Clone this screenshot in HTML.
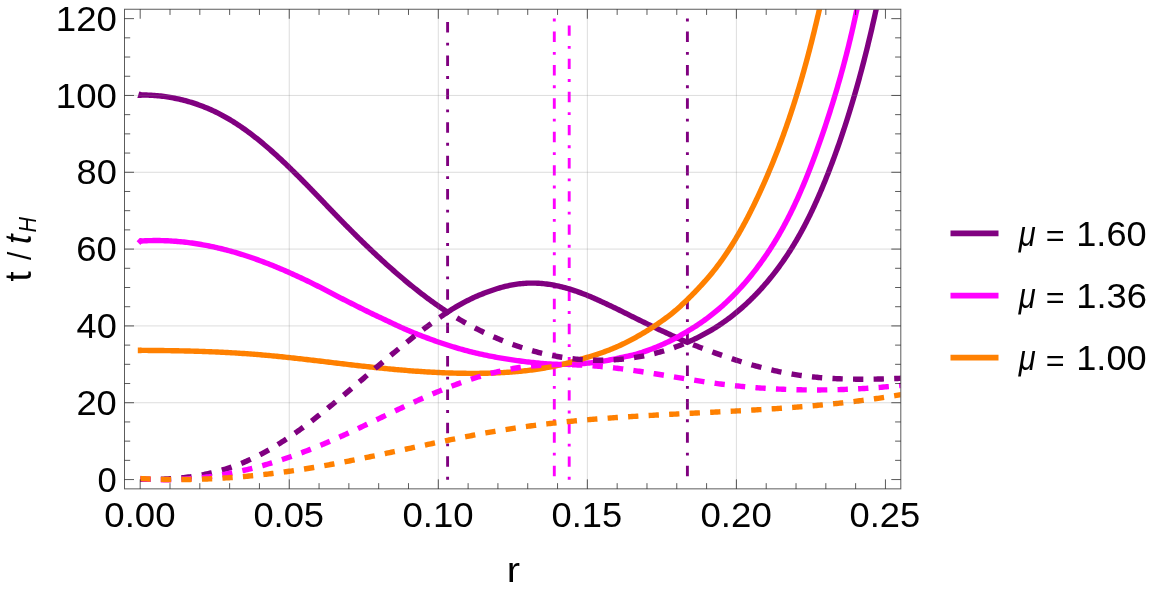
<!DOCTYPE html>
<html><head><meta charset="utf-8"><title>t/tH vs r</title>
<style>html,body{margin:0;padding:0;background:#fff}svg{display:block}</style></head>
<body>
<svg width="1163" height="596" viewBox="0 0 1163 596">
<rect width="1163" height="596" fill="#ffffff"/>
<defs><clipPath id="pc"><rect x="124.5" y="9.25" width="776.3" height="479.6"/></clipPath></defs>
<g clip-path="url(#pc)" fill="none" stroke-linejoin="miter" stroke-linecap="butt">
<path d="M447.6,479.7 V18.55" stroke="#800080" stroke-width="2.9" stroke-dasharray="2.85 10.15 10.45 9.95"/>
<path d="M687.4,18.55 V479.7" stroke="#800080" stroke-width="2.9" stroke-dasharray="2.85 10.15 10.45 9.95"/>
<path d="M554.3,18.55 V479.7" stroke="#ff00ff" stroke-width="2.9" stroke-dasharray="2.85 10.15 10.45 9.95"/>
<path d="M569.2,479.7 V18.55" stroke="#ff00ff" stroke-width="2.9" stroke-dasharray="2.83 10.07 10.37 9.88"/>
<path d="M140.30,95.01 L141.83,95.00 L143.41,95.01 L144.99,95.03 L146.57,95.06 L148.15,95.11 L149.73,95.18 L151.31,95.26 L152.88,95.35 L154.46,95.46 L156.03,95.59 L157.60,95.73 L159.17,95.88 L160.74,96.05 L162.30,96.24 L163.86,96.44 L165.42,96.65 L166.98,96.88 L168.54,97.12 L170.09,97.38 L171.64,97.65 L173.19,97.94 L174.73,98.24 L176.27,98.55 L177.81,98.88 L179.34,99.22 L180.87,99.58 L182.40,99.95 L183.92,100.33 L185.44,100.73 L186.95,101.14 L188.46,101.57 L189.97,102.01 L191.47,102.46 L192.97,102.93 L194.46,103.41 L195.95,103.91 L197.43,104.41 L198.91,104.93 L200.38,105.47 L201.84,106.02 L203.30,106.58 L204.76,107.15 L206.21,107.74 L207.65,108.34 L209.09,108.95 L210.52,109.58 L211.95,110.22 L213.37,110.87 L214.78,111.54 L216.18,112.21 L217.58,112.91 L218.98,113.61 L220.36,114.32 L221.74,115.05 L223.11,115.79 L224.48,116.54 L225.84,117.30 L227.19,118.08 L228.54,118.86 L229.88,119.66 L231.22,120.46 L232.55,121.28 L233.87,122.11 L235.19,122.94 L236.50,123.79 L237.81,124.64 L239.11,125.51 L240.40,126.38 L241.69,127.27 L242.98,128.16 L244.25,129.06 L245.53,129.97 L246.80,130.88 L248.06,131.81 L249.32,132.74 L250.57,133.68 L251.82,134.63 L253.06,135.58 L254.30,136.54 L255.53,137.51 L256.76,138.48 L257.98,139.46 L259.20,140.45 L260.42,141.44 L261.63,142.44 L262.83,143.44 L264.04,144.45 L265.23,145.47 L266.43,146.48 L267.62,147.51 L268.80,148.53 L269.98,149.57 L271.16,150.60 L272.33,151.64 L273.50,152.68 L274.67,153.73 L275.83,154.78 L276.99,155.83 L278.15,156.89 L279.30,157.95 L280.45,159.02 L281.59,160.08 L282.74,161.15 L283.88,162.23 L285.01,163.30 L286.15,164.38 L287.28,165.47 L288.40,166.55 L289.53,167.64 L290.65,168.73 L291.77,169.82 L292.89,170.92 L294.01,172.01 L295.12,173.11 L296.23,174.22 L297.34,175.32 L298.45,176.43 L299.56,177.53 L300.66,178.64 L301.76,179.76 L302.86,180.87 L303.96,181.98 L305.06,183.10 L306.16,184.22 L307.25,185.34 L308.35,186.46 L309.44,187.58 L310.53,188.70 L311.62,189.83 L312.71,190.95 L313.80,192.08 L314.89,193.21 L315.97,194.33 L317.06,195.46 L318.15,196.59 L319.23,197.72 L320.32,198.85 L321.40,199.98 L322.49,201.11 L323.57,202.24 L324.66,203.37 L325.74,204.50 L326.82,205.63 L327.91,206.76 L328.99,207.89 L330.08,209.02 L331.17,210.15 L332.25,211.28 L333.34,212.41 L334.43,213.54 L335.52,214.66 L336.61,215.79 L337.70,216.92 L338.79,218.04 L339.88,219.16 L340.98,220.29 L342.07,221.41 L343.17,222.53 L344.26,223.65 L345.36,224.77 L346.46,225.88 L347.57,227.00 L348.67,228.11 L349.77,229.22 L350.88,230.33 L351.99,231.44 L353.09,232.55 L354.20,233.66 L355.32,234.76 L356.43,235.86 L357.54,236.97 L358.66,238.07 L359.78,239.16 L360.90,240.26 L362.02,241.36 L363.14,242.45 L364.27,243.54 L365.39,244.63 L366.52,245.72 L367.65,246.80 L368.78,247.88 L369.92,248.97 L371.05,250.05 L372.19,251.12 L373.33,252.20 L374.47,253.27 L375.61,254.34 L376.76,255.41 L377.90,256.48 L379.05,257.54 L380.20,258.60 L381.36,259.66 L382.51,260.72 L383.67,261.77 L384.83,262.83 L385.99,263.88 L387.16,264.92 L388.32,265.97 L389.49,267.01 L390.66,268.05 L391.83,269.09 L393.01,270.12 L394.19,271.15 L395.37,272.18 L396.55,273.21 L397.73,274.23 L398.92,275.25 L400.11,276.27 L401.30,277.28 L402.50,278.29 L403.69,279.30 L404.89,280.31 L406.10,281.31 L407.30,282.31 L408.51,283.30 L409.72,284.30 L410.93,285.29 L412.15,286.27 L413.37,287.26 L414.59,288.24 L415.81,289.21 L417.04,290.18 L418.27,291.15 L419.50,292.12 L420.74,293.08 L421.98,294.03 L423.22,294.98 L424.46,295.93 L425.71,296.87 L426.97,297.81 L428.22,298.75 L429.48,299.67 L430.75,300.60 L432.01,301.52 L433.28,302.43 L434.56,303.34 L435.84,304.24 L437.12,305.14 L438.41,306.03 L439.70,306.91 L440.99,307.79 L442.29,308.67 L443.59,309.53 L444.90,310.39 L446.21,311.25 L447.53,312.10 L447.57,312.13 L448.95,311.24 L450.26,310.40 L451.57,309.58 L452.89,308.78 L454.21,307.98 L455.54,307.19 L456.87,306.41 L458.21,305.63 L459.55,304.87 L460.89,304.12 L462.24,303.37 L463.60,302.63 L464.96,301.91 L466.32,301.19 L467.69,300.49 L469.06,299.79 L470.44,299.11 L471.83,298.45 L473.22,297.80 L474.61,297.16 L476.01,296.54 L477.41,295.93 L478.82,295.34 L480.23,294.76 L481.65,294.19 L483.07,293.63 L484.49,293.08 L485.93,292.54 L487.36,292.01 L488.80,291.48 L490.25,290.96 L491.70,290.45 L493.15,289.95 L494.61,289.47 L496.07,288.99 L497.54,288.53 L499.01,288.09 L500.49,287.66 L501.97,287.25 L503.46,286.85 L504.95,286.47 L506.45,286.12 L507.95,285.78 L509.45,285.46 L510.96,285.16 L512.47,284.88 L513.99,284.62 L515.51,284.37 L517.04,284.14 L518.57,283.94 L520.11,283.75 L521.65,283.59 L523.19,283.45 L524.74,283.33 L526.29,283.23 L527.84,283.16 L529.40,283.11 L530.96,283.09 L532.51,283.09 L534.07,283.11 L535.63,283.15 L537.19,283.21 L538.75,283.29 L540.31,283.40 L541.87,283.52 L543.42,283.66 L544.98,283.83 L546.53,284.01 L548.08,284.21 L549.62,284.44 L551.16,284.68 L552.70,284.94 L554.24,285.23 L555.76,285.53 L557.29,285.84 L558.80,286.18 L560.31,286.52 L561.82,286.89 L563.32,287.27 L564.81,287.66 L566.29,288.07 L567.78,288.50 L569.25,288.93 L570.72,289.38 L572.18,289.85 L573.64,290.33 L575.09,290.82 L576.54,291.32 L577.99,291.83 L579.43,292.35 L580.86,292.89 L582.29,293.43 L583.72,293.98 L585.15,294.54 L586.57,295.10 L587.98,295.68 L589.40,296.26 L590.81,296.85 L592.22,297.45 L593.62,298.05 L595.03,298.67 L596.43,299.29 L597.83,299.91 L599.22,300.55 L600.62,301.19 L602.01,301.84 L603.40,302.48 L604.80,303.13 L606.19,303.78 L607.57,304.44 L608.96,305.09 L610.35,305.75 L611.74,306.42 L613.13,307.08 L614.52,307.75 L615.90,308.43 L617.29,309.10 L618.68,309.79 L620.07,310.47 L621.46,311.16 L622.86,311.86 L624.25,312.55 L625.64,313.25 L627.04,313.95 L628.44,314.66 L629.83,315.36 L631.23,316.06 L632.63,316.76 L634.03,317.46 L635.44,318.16 L636.84,318.85 L638.24,319.54 L639.65,320.23 L641.06,320.92 L642.46,321.60 L643.87,322.28 L645.28,322.96 L646.69,323.64 L648.10,324.32 L649.52,324.99 L650.93,325.67 L652.34,326.34 L653.76,327.01 L655.18,327.68 L656.60,328.35 L658.01,329.02 L659.43,329.68 L660.86,330.34 L662.28,331.00 L663.70,331.66 L665.13,332.32 L666.55,332.98 L667.98,333.64 L669.40,334.29 L670.83,334.95 L672.26,335.60 L673.69,336.25 L675.12,336.90 L676.55,337.55 L677.99,338.20 L679.42,338.85 L680.86,339.50 L682.29,340.15 L683.73,340.81 L685.17,341.46 L686.61,342.12 L687.22,342.39 L688.64,341.78 L690.07,341.14 L691.49,340.50 L692.91,339.85 L694.33,339.18 L695.74,338.51 L697.15,337.82 L698.55,337.12 L699.94,336.42 L701.33,335.70 L702.71,334.97 L704.09,334.23 L705.46,333.49 L706.83,332.73 L708.19,331.96 L709.54,331.18 L710.89,330.39 L712.23,329.59 L713.56,328.78 L714.89,327.95 L716.22,327.12 L717.53,326.28 L718.84,325.43 L720.14,324.56 L721.43,323.69 L722.72,322.81 L724.00,321.91 L725.28,321.01 L726.54,320.10 L727.80,319.17 L729.06,318.24 L730.30,317.30 L731.54,316.34 L732.78,315.38 L734.00,314.41 L735.22,313.43 L736.43,312.44 L737.64,311.44 L738.84,310.43 L740.03,309.42 L741.21,308.39 L742.39,307.36 L743.56,306.32 L744.72,305.27 L745.88,304.21 L747.03,303.14 L748.17,302.07 L749.31,300.98 L750.44,299.89 L751.56,298.79 L752.67,297.69 L753.78,296.57 L754.88,295.45 L755.98,294.33 L757.07,293.19 L758.15,292.05 L759.22,290.90 L760.29,289.74 L761.35,288.57 L762.40,287.40 L763.44,286.23 L764.48,285.04 L765.51,283.85 L766.54,282.66 L767.56,281.45 L768.57,280.24 L769.57,279.03 L770.57,277.81 L771.56,276.58 L772.54,275.35 L773.52,274.11 L774.49,272.87 L775.45,271.62 L776.40,270.36 L777.35,269.10 L778.29,267.84 L779.23,266.57 L780.15,265.29 L781.07,264.02 L781.99,262.73 L782.89,261.44 L783.79,260.15 L784.68,258.85 L785.57,257.55 L786.45,256.24 L787.32,254.93 L788.18,253.62 L789.04,252.30 L789.89,250.98 L790.73,249.65 L791.57,248.32 L792.39,246.99 L793.22,245.66 L794.03,244.32 L794.84,242.97 L795.64,241.63 L796.44,240.28 L797.23,238.92 L798.01,237.57 L798.79,236.21 L799.56,234.85 L800.32,233.48 L801.08,232.11 L801.83,230.74 L802.57,229.37 L803.31,227.99 L804.05,226.61 L804.78,225.22 L805.50,223.84 L806.22,222.45 L806.93,221.06 L807.63,219.66 L808.33,218.27 L809.03,216.87 L809.72,215.47 L810.40,214.06 L811.08,212.66 L811.76,211.25 L812.43,209.84 L813.10,208.42 L813.76,207.01 L814.41,205.59 L815.06,204.17 L815.71,202.74 L816.35,201.32 L816.99,199.89 L817.63,198.46 L818.26,197.03 L818.88,195.60 L819.50,194.17 L820.12,192.73 L820.74,191.29 L821.35,189.85 L821.95,188.41 L822.55,186.97 L823.15,185.52 L823.75,184.08 L824.34,182.63 L824.93,181.18 L825.52,179.73 L826.10,178.27 L826.68,176.82 L827.25,175.37 L827.83,173.91 L828.40,172.45 L828.97,170.99 L829.53,169.53 L830.09,168.07 L830.65,166.61 L831.21,165.15 L831.76,163.68 L832.31,162.22 L832.86,160.75 L833.41,159.28 L833.95,157.81 L834.49,156.34 L835.03,154.87 L835.56,153.40 L836.10,151.93 L836.63,150.45 L837.15,148.98 L837.68,147.50 L838.20,146.02 L838.72,144.55 L839.24,143.07 L839.75,141.59 L840.26,140.10 L840.77,138.62 L841.28,137.14 L841.78,135.65 L842.28,134.17 L842.78,132.68 L843.28,131.20 L843.77,129.71 L844.26,128.22 L844.75,126.73 L845.24,125.24 L845.72,123.75 L846.20,122.26 L846.68,120.76 L847.16,119.27 L847.64,117.78 L848.11,116.28 L848.58,114.78 L849.05,113.29 L849.51,111.79 L849.97,110.29 L850.43,108.79 L850.89,107.29 L851.35,105.79 L851.80,104.29 L852.25,102.79 L852.70,101.28 L853.15,99.78 L853.59,98.27 L854.04,96.77 L854.48,95.26 L854.91,93.76 L855.35,92.25 L855.78,90.74 L856.22,89.23 L856.64,87.73 L857.07,86.22 L857.50,84.71 L857.92,83.20 L858.34,81.68 L858.76,80.17 L859.18,78.66 L859.59,77.15 L860.00,75.63 L860.41,74.12 L860.82,72.60 L861.23,71.09 L861.63,69.57 L862.04,68.06 L862.44,66.54 L862.84,65.02 L863.23,63.51 L863.63,61.99 L864.02,60.47 L864.41,58.95 L864.80,57.43 L865.19,55.91 L865.57,54.39 L865.95,52.87 L866.34,51.35 L866.72,49.83 L867.09,48.31 L867.47,46.79 L867.84,45.27 L868.21,43.74 L868.59,42.22 L868.95,40.70 L869.32,39.18 L869.69,37.65 L870.05,36.13 L870.41,34.60 L870.77,33.08 L871.13,31.56 L871.48,30.03 L871.84,28.51 L872.19,26.98 L872.54,25.45 L872.89,23.93 L873.24,22.40 L873.59,20.88 L873.93,19.35 L874.28,17.82 L874.62,16.30 L874.96,14.77 L875.30,13.25 L875.63,11.72 L875.97,10.19 L876.30,8.66 L876.63,7.14 L876.96,5.61 L877.29,4.08 L877.62,2.56 L877.95,1.03 L878.00,0.78" stroke="#800080" stroke-width="5.4"/>
<path d="M140.30,241.07 L141.82,240.98 L143.46,240.89 L145.10,240.80 L146.74,240.73 L148.38,240.67 L150.01,240.63 L151.65,240.59 L153.28,240.56 L154.91,240.55 L156.53,240.55 L158.16,240.55 L159.78,240.57 L161.40,240.60 L163.02,240.63 L164.63,240.68 L166.25,240.74 L167.86,240.81 L169.47,240.89 L171.08,240.98 L172.68,241.08 L174.29,241.19 L175.89,241.31 L177.49,241.44 L179.08,241.58 L180.68,241.73 L182.27,241.88 L183.86,242.05 L185.45,242.23 L187.04,242.42 L188.62,242.61 L190.21,242.82 L191.79,243.03 L193.37,243.26 L194.94,243.49 L196.52,243.73 L198.09,243.98 L199.66,244.24 L201.23,244.51 L202.80,244.79 L204.36,245.07 L205.93,245.36 L207.49,245.67 L209.05,245.98 L210.61,246.30 L212.16,246.62 L213.71,246.96 L215.27,247.30 L216.82,247.65 L218.36,248.01 L219.91,248.38 L221.45,248.75 L223.00,249.14 L224.54,249.53 L226.07,249.92 L227.61,250.33 L229.15,250.74 L230.68,251.16 L232.21,251.59 L233.74,252.02 L235.27,252.46 L236.79,252.91 L238.31,253.37 L239.84,253.83 L241.36,254.30 L242.87,254.77 L244.39,255.26 L245.91,255.74 L247.42,256.24 L248.93,256.74 L250.44,257.25 L251.95,257.76 L253.45,258.29 L254.96,258.81 L256.46,259.35 L257.96,259.88 L259.46,260.43 L260.95,260.98 L262.45,261.54 L263.94,262.10 L265.43,262.67 L266.92,263.24 L268.41,263.82 L269.90,264.40 L271.38,264.99 L272.87,265.59 L274.35,266.19 L275.83,266.79 L277.31,267.40 L278.79,268.02 L280.26,268.64 L281.73,269.26 L283.21,269.89 L284.68,270.52 L286.14,271.16 L287.61,271.81 L289.08,272.45 L290.54,273.11 L292.00,273.76 L293.46,274.42 L294.92,275.09 L296.38,275.76 L297.83,276.43 L299.29,277.10 L300.74,277.79 L302.19,278.47 L303.64,279.16 L305.09,279.85 L306.54,280.54 L307.98,281.24 L309.42,281.94 L310.87,282.65 L312.31,283.36 L313.75,284.07 L315.18,284.79 L316.62,285.50 L318.05,286.22 L319.49,286.95 L320.92,287.67 L322.35,288.40 L323.78,289.14 L325.20,289.87 L326.63,290.61 L328.05,291.35 L329.47,292.09 L330.90,292.83 L332.32,293.58 L333.73,294.33 L335.15,295.08 L336.57,295.83 L337.98,296.59 L339.39,297.34 L340.80,298.07 L342.21,298.77 L343.62,299.48 L345.03,300.18 L346.44,300.89 L347.84,301.60 L349.25,302.31 L350.65,303.02 L352.06,303.73 L353.46,304.44 L354.86,305.15 L356.26,305.85 L357.67,306.56 L359.07,307.27 L360.47,307.98 L361.88,308.68 L363.28,309.39 L364.68,310.09 L366.09,310.79 L367.49,311.48 L368.90,312.17 L370.30,312.85 L371.71,313.52 L373.12,314.19 L374.53,314.86 L375.94,315.52 L377.35,316.19 L378.77,316.85 L380.18,317.51 L381.60,318.18 L383.02,318.85 L384.44,319.52 L385.86,320.19 L387.29,320.87 L388.72,321.55 L390.15,322.24 L391.58,322.94 L393.02,323.62 L394.45,324.30 L395.90,324.98 L397.34,325.65 L398.79,326.32 L400.24,326.98 L401.69,327.63 L403.15,328.28 L404.61,328.92 L406.07,329.56 L407.54,330.19 L409.01,330.81 L410.48,331.43 L411.96,332.05 L413.44,332.65 L414.92,333.25 L416.41,333.85 L417.90,334.44 L419.39,335.02 L420.88,335.60 L422.38,336.17 L423.88,336.74 L425.38,337.30 L426.88,337.86 L428.39,338.41 L429.90,338.95 L431.41,339.50 L432.92,340.05 L434.44,340.60 L435.96,341.16 L437.48,341.70 L439.00,342.24 L440.53,342.76 L442.06,343.28 L443.58,343.79 L445.12,344.29 L446.65,344.79 L448.18,345.28 L449.72,345.77 L451.26,346.25 L452.80,346.72 L454.34,347.19 L455.89,347.65 L457.43,348.11 L458.98,348.56 L460.53,349.00 L462.08,349.44 L463.63,349.87 L465.19,350.29 L466.74,350.71 L468.30,351.12 L469.86,351.52 L471.41,351.92 L472.97,352.30 L474.54,352.69 L476.10,353.06 L477.66,353.42 L479.23,353.78 L480.80,354.13 L482.36,354.48 L483.93,354.81 L485.50,355.15 L487.07,355.47 L488.65,355.79 L490.22,356.11 L491.79,356.41 L493.37,356.72 L494.95,357.01 L496.52,357.30 L498.10,357.59 L499.68,357.87 L501.26,358.14 L502.84,358.41 L504.43,358.67 L506.01,358.93 L507.59,359.18 L509.18,359.43 L510.77,359.67 L512.35,359.91 L513.94,360.14 L515.53,360.37 L517.12,360.59 L518.71,360.80 L520.30,361.02 L521.89,361.22 L523.48,361.42 L525.07,361.62 L526.66,361.81 L528.26,362.00 L529.85,362.18 L531.45,362.35 L533.04,362.52 L534.64,362.69 L536.23,362.86 L537.83,363.02 L539.43,363.18 L541.02,363.33 L542.62,363.47 L544.22,363.60 L545.82,363.73 L547.41,363.85 L549.01,363.95 L550.61,364.05 L552.21,364.14 L553.81,364.21 L555.41,364.27 L557.01,364.32 L558.61,364.36 L560.21,364.37 L561.81,364.38 L563.41,364.38 L565.01,364.37 L566.61,364.35 L568.21,364.31 L569.81,364.27 L571.41,364.22 L573.01,364.16 L574.60,364.09 L576.20,364.01 L577.80,363.92 L579.39,363.82 L580.99,363.70 L582.59,363.58 L584.18,363.45 L585.77,363.31 L587.36,363.16 L588.95,363.00 L590.54,362.83 L592.13,362.65 L593.72,362.47 L595.31,362.27 L596.89,362.06 L598.47,361.84 L600.05,361.61 L601.63,361.37 L603.21,361.12 L604.79,360.86 L606.36,360.59 L607.94,360.31 L609.51,360.02 L611.07,359.72 L612.64,359.42 L614.21,359.10 L615.77,358.77 L617.33,358.43 L618.88,358.08 L620.44,357.72 L621.99,357.37 L623.54,357.04 L625.09,356.71 L626.63,356.39 L628.17,356.07 L629.71,355.74 L631.25,355.40 L632.78,355.05 L634.31,354.68 L635.84,354.29 L637.36,353.87 L638.88,353.42 L640.40,352.94 L641.91,352.44 L643.42,351.93 L644.93,351.41 L646.43,350.88 L647.93,350.34 L649.43,349.79 L650.92,349.23 L652.40,348.66 L653.89,348.08 L655.37,347.49 L656.84,346.89 L658.32,346.27 L659.78,345.65 L661.25,345.02 L662.70,344.38 L664.16,343.73 L665.61,343.06 L667.05,342.39 L668.49,341.71 L669.93,341.02 L671.36,340.31 L672.79,339.59 L674.21,338.85 L675.62,338.09 L677.03,337.32 L678.44,336.54 L679.84,335.76 L681.24,334.96 L682.63,334.15 L684.01,333.34 L685.39,332.52 L686.77,331.70 L688.14,330.88 L689.50,330.06 L690.86,329.23 L692.21,328.40 L693.55,327.56 L694.89,326.72 L696.23,325.86 L697.56,324.99 L698.88,324.11 L700.20,323.21 L701.51,322.30 L702.82,321.38 L704.12,320.45 L705.41,319.51 L706.70,318.57 L707.98,317.61 L709.25,316.64 L710.52,315.67 L711.78,314.68 L713.04,313.69 L714.29,312.69 L715.53,311.68 L716.77,310.65 L718.00,309.62 L719.23,308.59 L720.45,307.54 L721.66,306.48 L722.86,305.41 L724.06,304.33 L725.25,303.24 L726.44,302.14 L727.61,301.03 L728.78,299.91 L729.95,298.78 L731.11,297.64 L732.26,296.50 L733.40,295.35 L734.53,294.19 L735.66,293.02 L736.79,291.85 L737.90,290.67 L739.01,289.48 L740.11,288.29 L741.20,287.09 L742.29,285.88 L743.37,284.67 L744.44,283.45 L745.50,282.22 L746.56,280.98 L747.60,279.74 L748.65,278.49 L749.68,277.24 L750.70,275.97 L751.72,274.70 L752.73,273.43 L753.73,272.15 L754.73,270.86 L755.72,269.57 L756.69,268.27 L757.67,266.97 L758.63,265.66 L759.58,264.35 L760.53,263.05 L761.47,261.76 L762.41,260.47 L763.33,259.17 L764.25,257.87 L765.16,256.56 L766.06,255.25 L766.96,253.93 L767.85,252.61 L768.73,251.28 L769.61,249.95 L770.48,248.62 L771.34,247.28 L772.19,245.93 L773.04,244.59 L773.88,243.23 L774.72,241.88 L775.55,240.52 L776.37,239.15 L777.18,237.78 L777.99,236.41 L778.79,235.04 L779.59,233.66 L780.38,232.27 L781.17,230.89 L781.94,229.50 L782.72,228.10 L783.48,226.70 L784.24,225.30 L785.00,223.90 L785.75,222.49 L786.49,221.08 L787.23,219.66 L787.96,218.24 L788.69,216.82 L789.41,215.40 L790.13,213.97 L790.84,212.54 L791.54,211.11 L792.24,209.67 L792.94,208.23 L793.63,206.79 L794.32,205.34 L795.00,203.90 L795.67,202.45 L796.34,200.99 L797.01,199.54 L797.67,198.08 L798.33,196.62 L798.98,195.16 L799.63,193.69 L800.27,192.23 L800.91,190.76 L801.55,189.29 L802.18,187.81 L802.80,186.34 L803.43,184.86 L804.05,183.38 L804.66,181.90 L805.27,180.42 L805.88,178.94 L806.48,177.45 L807.08,175.96 L807.68,174.47 L808.27,172.98 L808.86,171.49 L809.44,169.99 L810.03,168.50 L810.60,167.00 L811.18,165.50 L811.75,164.01 L812.32,162.51 L812.89,161.00 L813.45,159.50 L814.01,158.00 L814.57,156.49 L815.12,154.99 L815.67,153.48 L816.22,151.98 L816.77,150.47 L817.31,148.96 L817.85,147.45 L818.39,145.94 L818.93,144.43 L819.46,142.92 L820.00,141.41 L820.53,139.90 L821.05,138.39 L821.58,136.87 L822.10,135.36 L822.62,133.85 L823.14,132.33 L823.65,130.82 L824.17,129.31 L824.68,127.79 L825.19,126.27 L825.69,124.76 L826.19,123.24 L826.70,121.72 L827.20,120.20 L827.69,118.69 L828.19,117.17 L828.68,115.65 L829.17,114.13 L829.66,112.60 L830.14,111.08 L830.62,109.56 L831.10,108.04 L831.58,106.51 L832.06,104.99 L832.53,103.46 L833.00,101.94 L833.47,100.41 L833.94,98.89 L834.40,97.36 L834.86,95.83 L835.32,94.30 L835.78,92.77 L836.23,91.24 L836.68,89.71 L837.13,88.18 L837.58,86.65 L838.02,85.12 L838.47,83.58 L838.91,82.05 L839.35,80.52 L839.78,78.98 L840.21,77.44 L840.65,75.91 L841.07,74.37 L841.50,72.83 L841.92,71.29 L842.35,69.75 L842.76,68.21 L843.18,66.67 L843.60,65.13 L844.01,63.59 L844.42,62.05 L844.83,60.50 L845.23,58.96 L845.63,57.41 L846.03,55.86 L846.43,54.32 L846.83,52.77 L847.22,51.22 L847.61,49.67 L848.00,48.12 L848.39,46.57 L848.77,45.02 L849.15,43.47 L849.53,41.91 L849.91,40.36 L850.28,38.80 L850.65,37.25 L851.02,35.69 L851.39,34.13 L851.76,32.57 L852.12,31.01 L852.48,29.45 L852.84,27.89 L853.19,26.33 L853.54,24.77 L853.90,23.20 L854.24,21.64 L854.59,20.07 L854.93,18.51 L855.28,16.94 L855.61,15.37 L855.95,13.80 L856.29,12.23 L856.62,10.66 L856.95,9.09 L857.27,7.52 L857.60,5.95 L857.92,4.37 L858.24,2.80 L858.56,1.22 L858.80,0.02" stroke="#ff00ff" stroke-width="5.4"/>
<path d="M140.30,350.40 L141.94,350.40 L143.59,350.41 L145.24,350.42 L146.88,350.42 L148.53,350.43 L150.18,350.44 L151.83,350.45 L153.48,350.47 L155.12,350.48 L156.77,350.50 L158.42,350.51 L160.07,350.53 L161.72,350.55 L163.37,350.57 L165.02,350.59 L166.66,350.61 L168.31,350.63 L169.96,350.66 L171.61,350.68 L173.26,350.71 L174.91,350.74 L176.56,350.77 L178.21,350.80 L179.86,350.83 L181.51,350.87 L183.16,350.90 L184.80,350.94 L186.45,350.98 L188.10,351.02 L189.75,351.06 L191.40,351.11 L193.05,351.15 L194.70,351.20 L196.35,351.25 L198.00,351.30 L199.65,351.36 L201.30,351.41 L202.94,351.47 L204.59,351.53 L206.24,351.59 L207.89,351.65 L209.54,351.71 L211.19,351.78 L212.84,351.85 L214.48,351.92 L216.13,351.99 L217.78,352.06 L219.43,352.14 L221.07,352.22 L222.72,352.30 L224.37,352.38 L226.02,352.47 L227.66,352.55 L229.31,352.64 L230.96,352.73 L232.60,352.83 L234.25,352.92 L235.89,353.02 L237.54,353.12 L239.19,353.23 L240.83,353.33 L242.48,353.44 L244.12,353.55 L245.77,353.66 L247.41,353.78 L249.05,353.90 L250.70,354.02 L252.34,354.14 L253.98,354.27 L255.63,354.40 L257.27,354.53 L258.91,354.66 L260.55,354.80 L262.20,354.94 L263.84,355.08 L265.48,355.22 L267.12,355.37 L268.76,355.52 L270.40,355.67 L272.04,355.83 L273.68,355.99 L275.32,356.14 L276.96,356.31 L278.60,356.47 L280.24,356.63 L281.88,356.80 L283.51,356.97 L285.15,357.14 L286.79,357.32 L288.43,357.49 L290.07,357.67 L291.70,357.85 L293.34,358.02 L294.98,358.21 L296.61,358.39 L298.25,358.57 L299.89,358.76 L301.52,358.94 L303.16,359.13 L304.80,359.32 L306.43,359.51 L308.07,359.70 L309.70,359.89 L311.34,360.08 L312.98,360.27 L314.61,360.47 L316.25,360.66 L317.88,360.86 L319.52,361.05 L321.15,361.25 L322.79,361.44 L324.42,361.64 L326.06,361.83 L327.69,362.03 L329.33,362.23 L330.96,362.42 L332.60,362.62 L334.23,362.82 L335.87,363.01 L337.51,363.21 L339.14,363.41 L340.78,363.60 L342.41,363.80 L344.05,363.99 L345.68,364.18 L347.32,364.38 L348.95,364.57 L350.59,364.76 L352.23,364.95 L353.86,365.14 L355.50,365.33 L357.13,365.52 L358.77,365.70 L360.41,365.89 L362.04,366.07 L363.68,366.26 L365.32,366.44 L366.95,366.62 L368.59,366.80 L370.23,366.98 L371.87,367.15 L373.50,367.33 L375.14,367.50 L376.78,367.67 L378.42,367.84 L380.06,368.01 L381.70,368.18 L383.33,368.34 L384.97,368.50 L386.61,368.67 L388.25,368.82 L389.89,368.98 L391.53,369.14 L393.17,369.29 L394.81,369.44 L396.45,369.59 L398.09,369.73 L399.73,369.88 L401.37,370.02 L403.01,370.16 L404.65,370.30 L406.29,370.43 L407.93,370.57 L409.57,370.70 L411.22,370.82 L412.86,370.95 L414.50,371.07 L416.14,371.19 L417.78,371.31 L419.43,371.42 L421.07,371.53 L422.71,371.64 L424.35,371.75 L426.00,371.85 L427.64,371.95 L429.28,372.05 L430.93,372.14 L432.57,372.23 L434.22,372.32 L435.86,372.40 L437.50,372.48 L439.15,372.56 L440.79,372.63 L442.44,372.71 L444.09,372.77 L445.73,372.84 L447.38,372.90 L449.02,372.96 L450.67,373.01 L452.31,373.06 L453.96,373.11 L455.61,373.15 L457.26,373.19 L458.90,373.22 L460.55,373.25 L462.20,373.28 L463.85,373.30 L465.49,373.32 L467.14,373.34 L468.79,373.35 L470.44,373.36 L472.09,373.36 L473.74,373.36 L475.39,373.36 L477.04,373.35 L478.69,373.33 L480.19,373.32 L481.69,373.30 L483.19,373.27 L484.69,373.24 L486.19,373.21 L487.69,373.18 L489.19,373.14 L490.69,373.09 L492.19,373.05 L493.69,372.99 L495.19,372.94 L496.69,372.88 L498.19,372.81 L499.69,372.74 L501.19,372.67 L502.69,372.59 L504.19,372.50 L505.69,372.41 L507.19,372.32 L508.69,372.22 L510.19,372.11 L511.68,372.00 L513.18,371.89 L514.68,371.77 L516.17,371.64 L517.67,371.51 L519.16,371.37 L520.66,371.22 L522.15,371.07 L523.64,370.92 L525.13,370.76 L526.77,370.57 L528.41,370.38 L530.05,370.18 L531.68,369.97 L533.32,369.75 L534.95,369.52 L536.58,369.29 L538.21,369.05 L539.84,368.80 L541.47,368.54 L543.10,368.27 L544.72,368.00 L546.35,367.71 L547.97,367.42 L549.59,367.12 L551.21,366.80 L552.83,366.48 L554.44,366.15 L556.05,365.81 L557.67,365.46 L559.27,365.11 L560.88,364.74 L562.49,364.36 L564.09,363.98 L565.69,363.59 L567.29,363.18 L568.88,362.77 L570.48,362.35 L572.07,361.92 L573.66,361.48 L575.24,361.04 L576.83,360.58 L578.41,360.11 L579.99,359.64 L581.56,359.16 L583.13,358.66 L584.70,358.16 L586.27,357.65 L587.83,357.18 L589.40,356.73 L590.95,356.27 L592.51,355.81 L594.06,355.33 L595.61,354.83 L597.15,354.33 L598.69,353.81 L600.23,353.28 L601.76,352.74 L603.29,352.20 L604.82,351.64 L606.34,351.08 L607.86,350.50 L609.38,349.92 L610.89,349.32 L612.40,348.71 L613.90,348.08 L615.40,347.45 L616.90,346.79 L618.39,346.13 L619.88,345.44 L621.36,344.74 L622.84,344.04 L624.32,343.32 L625.79,342.60 L627.25,341.86 L628.71,341.12 L630.17,340.37 L631.62,339.61 L633.07,338.84 L634.51,338.06 L635.95,337.27 L637.39,336.48 L638.81,335.67 L640.24,334.86 L641.66,334.03 L643.07,333.20 L644.48,332.36 L645.88,331.51 L647.28,330.65 L648.67,329.79 L650.06,328.91 L651.44,328.03 L652.81,327.14 L654.18,326.24 L655.55,325.33 L656.91,324.41 L658.26,323.49 L659.61,322.56 L660.95,321.62 L662.29,320.67 L663.62,319.71 L664.94,318.75 L666.26,317.78 L667.58,316.80 L668.88,315.81 L670.18,314.82 L671.48,313.80 L672.65,312.86 L673.81,311.91 L674.97,310.93 L676.13,309.95 L677.28,308.95 L678.42,307.94 L679.56,306.92 L680.69,305.89 L681.82,304.85 L682.94,303.81 L684.06,302.75 L685.17,301.70 L686.27,300.64 L687.37,299.57 L688.47,298.51 L689.55,297.44 L690.63,296.37 L691.71,295.30 L692.78,294.22 L693.84,293.13 L694.90,292.04 L695.95,290.95 L697.00,289.84 L698.04,288.74 L699.07,287.62 L700.10,286.51 L701.22,285.31 L702.33,284.11 L703.44,282.90 L704.54,281.68 L705.63,280.45 L706.71,279.22 L707.79,277.98 L708.86,276.73 L709.92,275.48 L710.97,274.22 L712.01,272.95 L713.04,271.67 L714.07,270.38 L715.09,269.09 L716.10,267.79 L717.10,266.48 L718.09,265.17 L719.08,263.85 L720.06,262.52 L721.03,261.19 L721.90,259.97 L722.77,258.75 L723.63,257.52 L724.49,256.28 L725.34,255.04 L726.18,253.80 L727.02,252.55 L727.85,251.30 L728.68,250.04 L729.50,248.78 L730.31,247.51 L731.12,246.24 L731.93,244.97 L732.72,243.69 L733.52,242.40 L734.30,241.12 L735.08,239.82 L735.86,238.53 L736.63,237.23 L737.40,235.93 L738.16,234.62 L738.91,233.31 L739.67,232.00 L740.41,230.69 L741.15,229.37 L741.89,228.05 L742.62,226.72 L743.35,225.39 L744.07,224.06 L744.79,222.73 L745.50,221.40 L746.21,220.06 L746.91,218.72 L747.61,217.38 L748.31,216.03 L749.00,214.69 L749.69,213.34 L750.38,211.99 L751.06,210.64 L751.73,209.29 L752.40,207.93 L753.07,206.58 L753.74,205.22 L754.40,203.86 L755.06,202.50 L755.71,201.14 L756.36,199.78 L757.01,198.41 L757.65,197.05 L758.30,195.69 L758.93,194.32 L759.57,192.95 L760.20,191.59 L760.83,190.22 L761.45,188.85 L762.07,187.48 L762.69,186.11 L763.30,184.74 L763.92,183.36 L764.52,181.99 L765.13,180.61 L765.73,179.24 L766.33,177.86 L766.93,176.48 L767.52,175.11 L768.17,173.59 L768.81,172.07 L769.45,170.55 L770.09,169.03 L770.72,167.51 L771.35,165.99 L771.98,164.46 L772.60,162.94 L773.22,161.41 L773.84,159.89 L774.45,158.36 L775.06,156.83 L775.66,155.30 L776.26,153.77 L776.86,152.24 L777.46,150.70 L778.05,149.17 L778.64,147.63 L779.22,146.10 L779.80,144.56 L780.38,143.02 L780.95,141.48 L781.53,139.94 L782.09,138.40 L782.66,136.86 L783.22,135.31 L783.78,133.77 L784.33,132.22 L784.89,130.67 L785.43,129.12 L785.98,127.58 L786.52,126.03 L787.06,124.47 L787.60,122.92 L788.13,121.37 L788.66,119.81 L789.19,118.26 L789.72,116.70 L790.24,115.14 L790.76,113.59 L791.27,112.03 L791.79,110.47 L792.30,108.90 L792.80,107.34 L793.31,105.78 L793.81,104.21 L794.31,102.65 L794.80,101.08 L795.30,99.51 L795.79,97.95 L796.28,96.38 L796.76,94.81 L797.24,93.23 L797.72,91.66 L798.20,90.09 L798.68,88.51 L799.15,86.94 L799.62,85.36 L800.08,83.79 L800.55,82.21 L801.01,80.63 L801.47,79.05 L801.93,77.47 L802.38,75.89 L802.83,74.31 L803.28,72.72 L803.73,71.14 L804.18,69.55 L804.62,67.97 L805.06,66.38 L805.50,64.79 L805.93,63.21 L806.37,61.62 L806.80,60.03 L807.23,58.44 L807.65,56.84 L808.08,55.25 L808.50,53.66 L808.92,52.06 L809.34,50.47 L809.76,48.87 L810.17,47.28 L810.58,45.68 L810.99,44.08 L811.40,42.48 L811.77,41.03 L812.14,39.58 L812.50,38.12 L812.87,36.67 L813.23,35.21 L813.59,33.75 L813.95,32.29 L814.31,30.84 L814.66,29.38 L815.02,27.92 L815.37,26.46 L815.72,25.00 L816.07,23.54 L816.42,22.08 L816.77,20.61 L817.12,19.15 L817.46,17.69 L817.80,16.22 L818.15,14.76 L818.49,13.30 L818.83,11.83 L819.16,10.36 L819.50,8.90 L819.84,7.43 L820.17,5.96 L820.50,4.50 L820.83,3.03 L821.16,1.56 L821.49,0.09 L821.50,0.06" stroke="#ff8000" stroke-width="5.4"/>
<path d="M137.3,97.9 L139.3,91.6 L141.5,92.1 L141.5,97.9 Z" fill="#800080" stroke="none"/>
<path d="M136.6,241.3 L139.6,238.0 L141.5,238.0 L141.5,243.6 L140.4,245.1 Z" fill="#ff00ff" stroke="none"/>
<path d="M137.8,347.6 H141.5 V353.2 H137.8 Z" fill="#ff8000" stroke="none"/>
<path d="M140.30,479.27 L141.91,479.31 L143.43,479.34 L144.96,479.36 L146.49,479.38 L148.02,479.39 L149.56,479.40 L151.10,479.40 L152.64,479.39 L154.18,479.37 L155.72,479.35 L157.27,479.32 L158.82,479.28 L160.36,479.23 L161.91,479.18 L163.47,479.12 L165.02,479.05 L166.57,478.98 L168.13,478.89 L169.68,478.80 L171.24,478.70 L172.79,478.59 L174.35,478.47 L175.90,478.35 L177.46,478.21 L179.02,478.07 L180.57,477.92 L182.12,477.76 L183.68,477.59 L185.23,477.41 L186.78,477.22 L188.33,477.03 L189.88,476.82 L191.43,476.61 L192.98,476.38 L194.52,476.15 L196.07,475.90 L197.61,475.65 L199.15,475.38 L200.68,475.11 L202.22,474.82 L203.75,474.53 L205.28,474.22 L206.80,473.91 L208.33,473.58 L209.85,473.24 L211.36,472.90 L212.87,472.54 L214.38,472.17 L215.89,471.79 L217.39,471.40 L218.89,470.99 L220.38,470.58 L221.87,470.15 L223.36,469.71 L224.84,469.26 L226.31,468.80 L227.78,468.33 L229.25,467.85 L230.71,467.35 L232.16,466.84 L233.61,466.32 L235.06,465.79 L236.50,465.25 L237.94,464.70 L239.37,464.14 L240.80,463.56 L242.22,462.98 L243.64,462.39 L245.05,461.78 L246.46,461.17 L247.87,460.54 L249.27,459.91 L250.67,459.26 L252.06,458.61 L253.45,457.95 L254.84,457.28 L256.22,456.59 L257.59,455.90 L258.97,455.20 L260.33,454.50 L261.70,453.78 L263.06,453.05 L264.41,452.32 L265.77,451.58 L267.12,450.83 L268.46,450.07 L269.80,449.31 L271.14,448.53 L272.47,447.75 L273.81,446.96 L275.13,446.17 L276.46,445.37 L277.78,444.56 L279.09,443.74 L280.40,442.92 L281.71,442.09 L283.02,441.25 L284.32,440.41 L285.62,439.56 L286.92,438.70 L288.21,437.84 L289.50,436.97 L290.79,436.10 L292.07,435.22 L293.35,434.34 L294.63,433.45 L295.91,432.56 L297.18,431.66 L298.45,430.75 L299.71,429.84 L300.98,428.93 L302.24,428.01 L303.50,427.09 L304.75,426.16 L306.00,425.23 L307.25,424.30 L308.50,423.36 L309.75,422.42 L310.99,421.47 L312.23,420.52 L313.47,419.57 L314.70,418.62 L315.93,417.66 L317.16,416.70 L318.39,415.73 L319.62,414.76 L320.84,413.79 L322.06,412.82 L323.28,411.85 L324.50,410.87 L325.72,409.90 L326.93,408.92 L328.14,407.93 L329.35,406.95 L330.56,405.97 L331.76,404.98 L332.97,403.99 L334.17,403.01 L335.37,402.02 L336.57,401.03 L337.77,400.03 L338.96,399.04 L340.16,398.05 L341.35,397.05 L342.54,396.06 L343.73,395.06 L344.92,394.07 L346.11,393.07 L347.29,392.07 L348.48,391.07 L349.66,390.08 L350.85,389.08 L352.03,388.08 L353.21,387.08 L354.40,386.08 L355.58,385.07 L356.76,384.07 L357.94,383.07 L359.12,382.07 L360.29,381.07 L361.47,380.07 L362.65,379.07 L363.83,378.07 L365.01,377.06 L366.18,376.06 L367.36,375.06 L368.54,374.06 L369.71,373.06 L370.89,372.06 L372.07,371.06 L373.25,370.06 L374.42,369.06 L375.60,368.06 L376.78,367.07 L377.96,366.07 L379.14,365.07 L380.32,364.08 L381.50,363.08 L382.68,362.09 L383.86,361.10 L385.04,360.10 L386.23,359.11 L387.41,358.12 L388.60,357.13 L389.78,356.15 L390.97,355.16 L392.16,354.17 L393.35,353.19 L394.54,352.21 L395.73,351.22 L396.93,350.24 L398.12,349.26 L399.32,348.29 L400.52,347.31 L401.71,346.34 L402.92,345.37 L404.12,344.39 L405.32,343.43 L406.53,342.46 L407.74,341.49 L408.95,340.53 L410.16,339.57 L411.38,338.61 L412.59,337.65 L413.81,336.70 L415.03,335.74 L416.25,334.79 L417.48,333.84 L418.71,332.90 L419.94,331.95 L421.17,331.01 L422.41,330.07 L423.65,329.13 L424.89,328.20 L426.13,327.27 L427.38,326.34 L428.63,325.41 L429.88,324.49 L431.13,323.57 L432.39,322.65 L433.65,321.74 L434.92,320.83 L436.19,319.93 L437.46,319.03 L438.73,318.13 L440.01,317.24 L441.29,316.35 L442.58,315.47 L443.87,314.60 L445.16,313.73 L446.46,312.87 L447.57,312.13 L448.85,312.94 L450.17,313.78 L451.50,314.61 L452.83,315.43 L454.16,316.25 L455.50,317.06 L456.84,317.87 L458.19,318.67 L459.54,319.46 L460.89,320.25 L462.25,321.03 L463.61,321.81 L464.98,322.58 L466.35,323.34 L467.72,324.09 L469.10,324.84 L470.48,325.59 L471.86,326.32 L473.25,327.05 L474.64,327.78 L476.03,328.49 L477.43,329.21 L478.83,329.91 L480.24,330.61 L481.65,331.30 L483.06,331.98 L484.48,332.66 L485.89,333.33 L487.32,334.00 L488.74,334.65 L490.17,335.30 L491.60,335.95 L493.04,336.58 L494.48,337.21 L495.92,337.83 L497.36,338.45 L498.81,339.06 L500.26,339.66 L501.72,340.25 L503.17,340.83 L504.63,341.41 L506.10,341.98 L507.56,342.55 L509.03,343.10 L510.50,343.65 L511.97,344.19 L513.45,344.72 L514.93,345.24 L516.41,345.76 L517.89,346.27 L519.38,346.77 L520.87,347.26 L522.36,347.74 L523.86,348.22 L525.35,348.69 L526.85,349.15 L528.35,349.60 L529.85,350.04 L531.36,350.47 L532.87,350.90 L534.38,351.31 L535.89,351.72 L537.40,352.12 L538.92,352.51 L540.43,352.89 L541.95,353.27 L543.47,353.63 L545.00,353.98 L546.52,354.33 L548.05,354.67 L549.58,354.99 L551.11,355.31 L552.64,355.62 L554.17,355.92 L555.71,356.21 L557.25,356.49 L558.78,356.76 L560.32,357.02 L561.87,357.28 L563.41,357.52 L564.95,357.75 L566.50,357.98 L568.04,358.19 L569.59,358.39 L571.14,358.59 L572.69,358.77 L574.24,358.94 L575.79,359.11 L577.35,359.26 L578.90,359.40 L580.46,359.53 L582.01,359.66 L583.57,359.77 L585.13,359.87 L586.69,359.96 L588.25,360.04 L589.81,360.11 L591.37,360.17 L592.93,360.22 L594.50,360.26 L596.06,360.28 L597.62,360.30 L599.19,360.31 L600.75,360.30 L602.32,360.28 L603.88,360.26 L605.45,360.22 L607.01,360.17 L608.58,360.11 L610.14,360.04 L611.71,359.96 L613.27,359.86 L614.84,359.76 L616.40,359.65 L617.96,359.52 L619.53,359.39 L621.09,359.24 L622.65,359.08 L624.21,358.91 L625.77,358.74 L627.32,358.55 L628.88,358.35 L630.44,358.13 L631.99,357.91 L633.54,357.68 L635.09,357.44 L636.64,357.18 L638.19,356.92 L639.73,356.64 L641.28,356.35 L642.82,356.06 L644.36,355.75 L645.90,355.43 L647.43,355.10 L648.96,354.76 L650.49,354.41 L652.02,354.05 L653.55,353.68 L655.07,353.30 L656.59,352.90 L658.10,352.50 L659.62,352.08 L661.13,351.66 L662.63,351.22 L664.14,350.78 L665.64,350.32 L667.13,349.85 L668.63,349.37 L670.12,348.88 L671.60,348.39 L673.09,347.88 L674.56,347.35 L676.04,346.82 L677.51,346.28 L678.97,345.73 L680.44,345.17 L681.89,344.59 L683.35,344.01 L684.80,343.41 L686.24,342.81 L687.22,342.39 L688.70,342.99 L690.15,343.56 L691.59,344.12 L693.03,344.68 L694.48,345.24 L695.92,345.80 L697.37,346.35 L698.82,346.91 L700.27,347.46 L701.71,348.01 L703.17,348.56 L704.62,349.10 L706.07,349.64 L707.52,350.18 L708.98,350.72 L710.43,351.25 L711.89,351.78 L713.35,352.31 L714.81,352.84 L716.27,353.36 L717.73,353.88 L719.19,354.40 L720.65,354.91 L722.11,355.42 L723.58,355.93 L725.05,356.43 L726.51,356.93 L727.98,357.43 L729.45,357.92 L730.92,358.41 L732.39,358.90 L733.87,359.38 L735.34,359.85 L736.82,360.33 L738.29,360.79 L739.77,361.26 L741.25,361.72 L742.73,362.17 L744.21,362.62 L745.70,363.07 L747.18,363.51 L748.66,363.95 L750.15,364.38 L751.64,364.81 L753.13,365.23 L754.62,365.64 L756.11,366.05 L757.60,366.46 L759.10,366.86 L760.59,367.25 L762.09,367.64 L763.59,368.03 L765.09,368.40 L766.59,368.78 L768.09,369.14 L769.60,369.50 L771.10,369.86 L772.61,370.20 L774.12,370.55 L775.62,370.88 L777.14,371.21 L778.65,371.53 L780.16,371.85 L781.68,372.16 L783.19,372.46 L784.71,372.75 L786.23,373.04 L787.75,373.32 L789.27,373.60 L790.80,373.86 L792.32,374.12 L793.85,374.38 L795.38,374.62 L796.91,374.86 L798.44,375.09 L799.97,375.31 L801.51,375.53 L803.05,375.73 L804.58,375.94 L806.12,376.13 L807.66,376.32 L809.20,376.50 L810.74,376.67 L812.29,376.84 L813.83,377.00 L815.38,377.15 L816.92,377.30 L818.47,377.44 L820.02,377.58 L821.57,377.71 L823.12,377.83 L824.67,377.95 L826.22,378.06 L827.77,378.16 L829.33,378.26 L830.88,378.36 L832.43,378.45 L833.99,378.53 L835.54,378.61 L837.10,378.68 L838.65,378.75 L840.21,378.81 L841.77,378.87 L843.32,378.93 L844.88,378.97 L846.44,379.02 L848.00,379.06 L849.55,379.09 L851.11,379.12 L852.67,379.15 L854.23,379.17 L855.78,379.19 L857.34,379.20 L858.90,379.21 L860.45,379.22 L862.01,379.22 L863.57,379.22 L865.12,379.21 L866.68,379.21 L868.24,379.19 L869.79,379.18 L871.35,379.16 L872.90,379.14 L874.45,379.11 L876.01,379.09 L877.56,379.06 L879.11,379.02 L880.66,378.99 L882.21,378.95 L883.76,378.91 L885.31,378.86 L886.86,378.82 L888.40,378.77 L889.95,378.72 L891.49,378.67 L893.04,378.62 L894.58,378.56 L896.12,378.50 L897.66,378.44 L899.20,378.38 L900.73,378.32 L902.27,378.26 L903.80,378.19 L905.34,378.13 L906.87,378.06 L908.00,378.01" stroke="#800080" stroke-width="5.4" stroke-dasharray="10.3 10.285"/>
<path d="M140.30,478.70 L141.83,478.82 L143.45,478.95 L145.06,479.06 L146.66,479.16 L148.27,479.26 L149.88,479.34 L151.48,479.42 L153.09,479.49 L154.69,479.55 L156.30,479.60 L157.90,479.64 L159.50,479.68 L161.10,479.71 L162.70,479.72 L164.30,479.73 L165.89,479.73 L167.49,479.73 L169.08,479.71 L170.68,479.69 L172.27,479.66 L173.86,479.62 L175.45,479.57 L177.04,479.52 L178.63,479.45 L180.22,479.38 L181.80,479.30 L183.39,479.22 L184.97,479.12 L186.56,479.02 L188.14,478.91 L189.72,478.79 L191.30,478.67 L192.88,478.54 L194.45,478.40 L196.03,478.25 L197.60,478.10 L199.18,477.93 L200.75,477.77 L202.32,477.59 L203.89,477.40 L205.46,477.21 L207.03,477.02 L208.60,476.81 L210.16,476.60 L211.73,476.38 L213.29,476.15 L214.85,475.92 L216.41,475.68 L217.97,475.43 L219.53,475.18 L221.09,474.92 L222.64,474.65 L224.20,474.38 L225.75,474.10 L227.31,473.82 L228.86,473.52 L230.41,473.22 L231.95,472.92 L233.50,472.61 L235.05,472.29 L236.59,471.96 L238.13,471.63 L239.68,471.29 L241.22,470.95 L242.76,470.60 L244.29,470.25 L245.83,469.88 L247.37,469.52 L248.90,469.14 L250.43,468.76 L251.96,468.38 L253.49,467.99 L255.02,467.59 L256.55,467.19 L258.07,466.78 L259.60,466.37 L261.12,465.95 L262.64,465.53 L264.16,465.10 L265.68,464.66 L267.20,464.22 L268.71,463.77 L270.23,463.32 L271.74,462.86 L273.25,462.40 L274.76,461.94 L276.27,461.46 L277.78,460.99 L279.28,460.50 L280.79,460.02 L282.29,459.52 L283.79,459.03 L285.29,458.53 L286.79,458.02 L288.29,457.51 L289.78,456.99 L291.27,456.47 L292.77,455.94 L294.26,455.41 L295.75,454.88 L297.23,454.34 L298.72,453.80 L300.20,453.25 L301.69,452.70 L303.17,452.14 L304.65,451.58 L306.13,451.01 L307.60,450.44 L309.08,449.87 L310.55,449.29 L312.02,448.71 L313.49,448.13 L314.96,447.54 L316.43,446.94 L317.89,446.35 L319.36,445.74 L320.82,445.14 L322.28,444.53 L323.74,443.92 L325.20,443.30 L326.65,442.68 L328.11,442.06 L329.56,441.44 L331.01,440.81 L332.46,440.17 L333.91,439.54 L335.36,438.90 L336.81,438.26 L338.25,437.62 L339.70,436.97 L341.14,436.32 L342.58,435.67 L344.02,435.02 L345.46,434.36 L346.90,433.70 L348.34,433.04 L349.78,432.38 L351.22,431.72 L352.65,431.05 L354.09,430.38 L355.53,429.71 L356.96,429.04 L358.40,428.37 L359.83,427.70 L361.26,427.02 L362.70,426.35 L364.13,425.67 L365.56,424.99 L366.99,424.31 L368.43,423.63 L369.86,422.95 L371.29,422.27 L372.72,421.59 L374.15,420.90 L375.59,420.22 L377.02,419.54 L378.45,418.85 L379.88,418.17 L381.31,417.48 L382.75,416.80 L384.18,416.12 L385.61,415.43 L387.05,414.75 L388.48,414.07 L389.91,413.39 L391.35,412.70 L392.78,412.02 L394.22,411.34 L395.66,410.66 L397.09,409.98 L398.53,409.31 L399.97,408.63 L401.41,407.95 L402.85,407.28 L404.29,406.61 L405.73,405.94 L407.18,405.27 L408.62,404.60 L410.07,403.93 L411.51,403.27 L412.96,402.61 L414.41,401.95 L415.86,401.29 L417.31,400.63 L418.76,399.98 L420.22,399.32 L421.67,398.68 L423.13,398.03 L424.59,397.39 L426.05,396.74 L427.51,396.11 L428.97,395.47 L430.43,394.84 L431.90,394.21 L433.36,393.59 L434.83,392.96 L436.30,392.35 L437.77,391.73 L439.24,391.12 L440.72,390.52 L442.19,389.91 L443.67,389.32 L445.15,388.72 L446.62,388.13 L448.11,387.55 L449.59,386.97 L451.07,386.40 L452.56,385.83 L454.04,385.26 L455.53,384.70 L457.02,384.15 L458.51,383.60 L460.00,383.06 L461.50,382.52 L462.99,381.99 L464.49,381.47 L465.99,380.95 L467.49,380.43 L468.99,379.93 L470.49,379.43 L471.99,378.93 L473.50,378.45 L475.01,377.97 L476.51,377.49 L478.02,377.03 L479.54,376.57 L481.05,376.12 L482.56,375.67 L484.08,375.23 L485.60,374.80 L487.12,374.38 L488.64,373.97 L490.16,373.56 L491.68,373.17 L493.21,372.78 L494.74,372.40 L496.26,372.02 L497.79,371.66 L499.33,371.31 L500.86,370.96 L502.39,370.62 L503.93,370.29 L505.47,369.97 L507.01,369.66 L508.55,369.36 L510.09,369.07 L511.64,368.79 L513.18,368.52 L514.73,368.26 L516.28,368.01 L517.83,367.77 L519.38,367.53 L520.94,367.31 L522.49,367.10 L524.05,366.90 L525.61,366.70 L527.16,366.52 L528.72,366.34 L530.29,366.17 L531.85,366.02 L533.41,365.87 L534.98,365.73 L536.55,365.60 L538.11,365.47 L539.68,365.36 L541.25,365.25 L542.82,365.16 L544.39,365.07 L545.97,364.98 L547.54,364.91 L549.11,364.85 L550.69,364.79 L552.27,364.74 L553.84,364.70 L555.42,364.66 L557.00,364.64 L558.58,364.62 L560.16,364.60 L561.74,364.60 L563.32,364.60 L564.90,364.61 L566.48,364.63 L568.06,364.65 L569.64,364.68 L571.23,364.72 L572.81,364.76 L574.39,364.81 L575.98,364.86 L577.56,364.93 L579.15,365.00 L580.73,365.07 L582.31,365.15 L583.90,365.24 L585.48,365.33 L587.07,365.43 L588.65,365.53 L590.24,365.64 L591.82,365.76 L593.41,365.88 L594.99,366.00 L596.58,366.13 L598.16,366.27 L599.74,366.41 L601.33,366.56 L602.91,366.71 L604.49,366.86 L606.08,367.02 L607.66,367.19 L609.24,367.36 L610.82,367.53 L612.40,367.71 L613.98,367.89 L615.56,368.08 L617.14,368.27 L618.72,368.46 L620.30,368.66 L621.88,368.86 L623.45,369.07 L625.03,369.27 L626.60,369.49 L628.18,369.70 L629.75,369.92 L631.33,370.14 L632.90,370.37 L634.47,370.59 L636.04,370.82 L637.61,371.06 L639.19,371.29 L640.76,371.53 L642.33,371.77 L643.90,372.01 L645.46,372.25 L647.03,372.50 L648.60,372.75 L650.17,373.00 L651.74,373.25 L653.31,373.50 L654.87,373.75 L656.44,374.01 L658.01,374.26 L659.57,374.52 L661.14,374.77 L662.71,375.03 L664.27,375.29 L665.84,375.55 L667.40,375.81 L668.97,376.07 L670.53,376.33 L672.10,376.59 L673.66,376.85 L675.23,377.11 L676.79,377.37 L678.36,377.62 L679.92,377.88 L681.49,378.14 L683.05,378.40 L684.62,378.65 L686.18,378.91 L687.75,379.16 L689.31,379.41 L690.88,379.66 L692.44,379.91 L694.01,380.16 L695.57,380.41 L697.14,380.65 L698.70,380.89 L700.27,381.13 L701.84,381.37 L703.40,381.61 L704.97,381.84 L706.54,382.07 L708.10,382.30 L709.67,382.52 L711.24,382.74 L712.81,382.96 L714.38,383.18 L715.95,383.39 L717.52,383.60 L719.08,383.81 L720.65,384.01 L722.23,384.21 L723.80,384.41 L725.37,384.60 L726.94,384.79 L728.51,384.97 L730.08,385.15 L731.66,385.33 L733.23,385.51 L734.80,385.68 L736.38,385.85 L737.95,386.01 L739.53,386.17 L741.10,386.33 L742.68,386.48 L744.25,386.63 L745.83,386.78 L747.40,386.92 L748.98,387.07 L750.56,387.20 L752.13,387.34 L753.71,387.47 L755.29,387.59 L756.87,387.72 L758.44,387.84 L760.02,387.95 L761.60,388.07 L763.18,388.18 L764.76,388.28 L766.34,388.39 L767.92,388.49 L769.50,388.58 L771.08,388.67 L772.66,388.76 L774.24,388.85 L775.82,388.93 L777.40,389.01 L778.98,389.09 L780.56,389.16 L782.14,389.23 L783.72,389.30 L785.31,389.36 L786.89,389.42 L788.47,389.48 L790.05,389.53 L791.63,389.58 L793.22,389.63 L794.80,389.67 L796.38,389.71 L797.97,389.75 L799.55,389.78 L801.13,389.82 L802.71,389.84 L804.30,389.87 L805.88,389.89 L807.46,389.91 L809.05,389.92 L810.63,389.93 L812.22,389.94 L813.80,389.94 L815.38,389.95 L816.97,389.94 L818.55,389.94 L820.13,389.93 L821.72,389.92 L823.30,389.91 L824.89,389.89 L826.47,389.87 L828.06,389.84 L829.64,389.82 L831.22,389.79 L832.81,389.75 L834.39,389.72 L835.98,389.68 L837.56,389.64 L839.14,389.59 L840.73,389.54 L842.31,389.49 L843.90,389.43 L845.48,389.38 L847.06,389.31 L848.65,389.25 L850.23,389.18 L851.81,389.11 L853.40,389.04 L854.98,388.96 L856.56,388.88 L858.15,388.80 L859.73,388.71 L861.31,388.62 L862.90,388.53 L864.48,388.44 L866.06,388.34 L867.64,388.24 L869.23,388.13 L870.81,388.03 L872.39,387.92 L873.97,387.80 L875.55,387.69 L877.14,387.57 L878.72,387.45 L880.30,387.32 L881.88,387.19 L883.46,387.06 L885.04,386.93 L886.62,386.79 L888.20,386.65 L889.78,386.51 L891.36,386.36 L892.94,386.22 L894.52,386.06 L896.10,385.91 L897.68,385.75 L899.26,385.59 L900.84,385.43 L902.41,385.26 L903.99,385.09 L905.57,384.92 L907.15,384.75 L908.00,384.65" stroke="#ff00ff" stroke-width="5.4" stroke-dasharray="10.3 10.25"/>
<path d="M140.30,478.56 L141.85,478.65 L143.42,478.73 L144.98,478.80 L146.55,478.88 L148.11,478.94 L149.68,479.01 L151.24,479.07 L152.81,479.13 L154.37,479.18 L155.93,479.23 L157.49,479.28 L159.06,479.32 L160.62,479.36 L162.18,479.40 L163.74,479.43 L165.30,479.46 L166.86,479.49 L168.42,479.51 L169.98,479.53 L171.54,479.54 L173.10,479.55 L174.66,479.56 L176.22,479.56 L177.78,479.56 L179.33,479.56 L180.89,479.55 L182.45,479.54 L184.01,479.53 L185.56,479.51 L187.12,479.49 L188.67,479.47 L190.23,479.44 L191.78,479.41 L193.34,479.38 L194.89,479.34 L196.45,479.30 L198.00,479.26 L199.55,479.21 L201.11,479.16 L202.66,479.11 L204.21,479.05 L205.76,478.99 L207.32,478.93 L208.87,478.86 L210.42,478.80 L211.97,478.72 L213.52,478.65 L215.07,478.57 L216.62,478.49 L218.17,478.40 L219.72,478.31 L221.27,478.22 L222.81,478.12 L224.36,478.03 L225.91,477.93 L227.46,477.82 L229.00,477.71 L230.55,477.60 L232.10,477.49 L233.64,477.38 L235.19,477.26 L236.73,477.13 L238.28,477.01 L239.82,476.88 L241.37,476.75 L242.91,476.62 L244.46,476.48 L246.00,476.34 L247.54,476.20 L249.09,476.05 L250.63,475.90 L252.17,475.75 L253.71,475.60 L255.25,475.44 L256.79,475.28 L258.34,475.12 L259.88,474.95 L261.42,474.78 L262.96,474.61 L264.50,474.44 L266.03,474.26 L267.57,474.08 L269.11,473.90 L270.65,473.71 L272.19,473.53 L273.73,473.34 L275.26,473.14 L276.80,472.95 L278.34,472.75 L279.87,472.55 L281.41,472.34 L282.95,472.14 L284.48,471.93 L286.02,471.72 L287.55,471.50 L289.09,471.29 L290.62,471.07 L292.15,470.85 L293.69,470.62 L295.22,470.40 L296.75,470.17 L298.29,469.94 L299.82,469.70 L301.35,469.46 L302.88,469.23 L304.41,468.98 L305.94,468.74 L307.48,468.49 L309.01,468.24 L310.54,467.99 L312.07,467.74 L313.60,467.48 L315.13,467.23 L316.65,466.97 L318.18,466.70 L319.71,466.44 L321.24,466.17 L322.77,465.90 L324.30,465.63 L325.82,465.36 L327.35,465.08 L328.88,464.81 L330.40,464.53 L331.93,464.25 L333.46,463.97 L334.98,463.68 L336.51,463.40 L338.03,463.11 L339.56,462.82 L341.08,462.53 L342.61,462.23 L344.13,461.94 L345.66,461.64 L347.18,461.35 L348.71,461.05 L350.23,460.75 L351.75,460.45 L353.28,460.14 L354.80,459.84 L356.32,459.53 L357.85,459.23 L359.37,458.92 L360.89,458.61 L362.42,458.30 L363.94,457.99 L365.46,457.68 L366.98,457.37 L368.51,457.05 L370.03,456.74 L371.55,456.42 L373.07,456.10 L374.59,455.79 L376.11,455.47 L377.64,455.15 L379.16,454.83 L380.68,454.51 L382.20,454.19 L383.72,453.87 L385.24,453.54 L386.76,453.22 L388.28,452.90 L389.80,452.57 L391.33,452.25 L392.85,451.93 L394.37,451.60 L395.89,451.28 L397.41,450.95 L398.93,450.63 L400.45,450.30 L401.97,449.97 L403.49,449.65 L405.01,449.32 L406.53,449.00 L408.05,448.67 L409.57,448.35 L411.09,448.02 L412.61,447.69 L414.13,447.37 L415.66,447.04 L417.18,446.72 L418.70,446.39 L420.22,446.07 L421.74,445.75 L423.26,445.42 L424.78,445.10 L426.30,444.78 L427.82,444.45 L429.34,444.13 L430.86,443.81 L432.39,443.49 L433.91,443.17 L435.43,442.85 L436.95,442.53 L438.47,442.22 L439.99,441.90 L441.51,441.58 L443.04,441.27 L444.56,440.95 L446.08,440.64 L447.60,440.33 L449.12,440.02 L450.65,439.71 L452.17,439.40 L453.69,439.09 L455.21,438.78 L456.74,438.48 L458.26,438.18 L459.78,437.87 L461.31,437.57 L462.83,437.27 L464.36,436.97 L465.88,436.68 L467.40,436.38 L468.93,436.09 L470.45,435.79 L471.98,435.50 L473.50,435.21 L475.03,434.92 L476.55,434.64 L478.08,434.35 L479.60,434.07 L481.13,433.79 L482.66,433.51 L484.18,433.24 L485.71,432.96 L487.24,432.69 L488.76,432.42 L490.29,432.15 L491.82,431.88 L493.35,431.62 L494.88,431.35 L496.40,431.09 L497.93,430.84 L499.46,430.58 L500.99,430.33 L502.52,430.07 L504.05,429.83 L505.58,429.58 L507.11,429.34 L508.64,429.09 L510.18,428.86 L511.71,428.62 L513.24,428.39 L514.77,428.16 L516.30,427.93 L517.84,427.70 L519.37,427.48 L520.90,427.26 L522.44,427.04 L523.97,426.82 L525.51,426.61 L527.04,426.40 L528.58,426.19 L530.11,425.98 L531.65,425.78 L533.18,425.58 L534.72,425.38 L536.25,425.18 L537.79,424.99 L539.33,424.79 L540.87,424.60 L542.40,424.41 L543.94,424.23 L545.48,424.04 L547.02,423.86 L548.56,423.68 L550.10,423.51 L551.63,423.33 L553.17,423.16 L554.71,422.99 L556.25,422.82 L557.79,422.65 L559.33,422.48 L560.87,422.32 L562.42,422.16 L563.96,422.00 L565.50,421.84 L567.04,421.68 L568.58,421.53 L570.12,421.38 L571.67,421.23 L573.21,421.08 L574.75,420.93 L576.29,420.79 L577.84,420.64 L579.38,420.50 L580.92,420.36 L582.47,420.22 L584.01,420.08 L585.56,419.95 L587.10,419.82 L588.65,419.68 L590.19,419.55 L591.74,419.42 L593.28,419.30 L594.83,419.17 L596.37,419.04 L597.92,418.92 L599.46,418.80 L601.01,418.68 L602.56,418.56 L604.10,418.44 L605.65,418.32 L607.20,418.21 L608.74,418.09 L610.29,417.98 L611.84,417.87 L613.38,417.76 L614.93,417.65 L616.48,417.54 L618.03,417.43 L619.58,417.33 L621.12,417.22 L622.67,417.12 L624.22,417.02 L625.77,416.92 L627.32,416.82 L628.87,416.72 L630.42,416.62 L631.97,416.52 L633.51,416.42 L635.06,416.33 L636.61,416.23 L638.16,416.14 L639.71,416.04 L641.26,415.95 L642.81,415.86 L644.36,415.77 L645.91,415.68 L647.46,415.59 L649.01,415.50 L650.56,415.41 L652.11,415.33 L653.66,415.24 L655.21,415.15 L656.77,415.07 L658.32,414.98 L659.87,414.90 L661.42,414.81 L662.97,414.73 L664.52,414.65 L666.07,414.57 L667.62,414.48 L669.17,414.40 L670.73,414.32 L672.28,414.24 L673.83,414.16 L675.38,414.08 L676.93,414.00 L678.48,413.92 L680.03,413.84 L681.59,413.76 L683.14,413.69 L684.69,413.61 L686.24,413.53 L687.79,413.45 L689.34,413.37 L690.90,413.30 L692.45,413.22 L694.00,413.14 L695.55,413.06 L697.10,412.99 L698.66,412.91 L700.21,412.83 L701.76,412.75 L703.31,412.68 L704.86,412.60 L706.42,412.52 L707.97,412.44 L709.52,412.37 L711.07,412.29 L712.62,412.21 L714.18,412.13 L715.73,412.05 L717.28,411.97 L718.83,411.89 L720.38,411.81 L721.94,411.73 L723.49,411.65 L725.04,411.57 L726.59,411.49 L728.14,411.41 L729.69,411.33 L731.25,411.25 L732.80,411.17 L734.35,411.08 L735.90,411.00 L737.45,410.92 L739.00,410.83 L740.55,410.75 L742.11,410.66 L743.66,410.57 L745.21,410.49 L746.76,410.40 L748.31,410.31 L749.86,410.22 L751.41,410.13 L752.96,410.04 L754.51,409.95 L756.06,409.86 L757.61,409.77 L759.16,409.67 L760.71,409.58 L762.26,409.49 L763.81,409.39 L765.36,409.29 L766.91,409.19 L768.46,409.10 L770.01,409.00 L771.56,408.89 L773.11,408.79 L774.66,408.69 L776.21,408.59 L777.76,408.48 L779.31,408.38 L780.86,408.27 L782.41,408.16 L783.96,408.05 L785.50,407.94 L787.05,407.83 L788.60,407.71 L790.15,407.60 L791.70,407.48 L793.24,407.37 L794.79,407.25 L796.34,407.13 L797.89,407.01 L799.43,406.89 L800.98,406.76 L802.53,406.64 L804.07,406.51 L805.62,406.38 L807.17,406.25 L808.71,406.12 L810.26,405.99 L811.81,405.85 L813.35,405.72 L814.90,405.58 L816.44,405.44 L817.99,405.30 L819.53,405.16 L821.08,405.01 L822.62,404.87 L824.16,404.72 L825.71,404.57 L827.25,404.42 L828.80,404.27 L830.34,404.11 L831.88,403.96 L833.43,403.80 L834.97,403.64 L836.51,403.48 L838.05,403.31 L839.60,403.15 L841.14,402.98 L842.68,402.81 L844.22,402.64 L845.76,402.46 L847.30,402.29 L848.84,402.11 L850.38,401.93 L851.92,401.75 L853.46,401.56 L855.00,401.38 L856.54,401.19 L858.08,401.00 L859.62,400.80 L861.16,400.61 L862.70,400.41 L864.24,400.21 L865.77,400.01 L867.31,399.80 L868.85,399.60 L870.39,399.39 L871.92,399.18 L873.46,398.96 L875.00,398.75 L876.53,398.53 L878.07,398.31 L879.60,398.08 L881.14,397.86 L882.67,397.63 L884.21,397.40 L885.74,397.16 L887.28,396.92 L888.81,396.68 L890.34,396.44 L891.88,396.20 L893.41,395.95 L894.94,395.70 L896.47,395.45 L898.00,395.19 L899.54,394.93 L901.07,394.67 L902.60,394.41 L904.13,394.14 L905.66,393.87 L907.19,393.60 L908.00,393.45" stroke="#ff8000" stroke-width="5.4" stroke-dasharray="10.3 10.24"/>
</g>
<path d="M289.25,9.25 V488.85 M438.30,9.25 V488.85 M587.35,9.25 V488.85 M736.40,9.25 V488.85 M124.5,402.73 H900.8 M124.5,325.91 H900.8 M124.5,249.09 H900.8 M124.5,172.27 H900.8 M124.5,95.45 H900.8" stroke="#808080" stroke-opacity="0.27" stroke-width="1" fill="none"/>
<rect x="124.5" y="9.25" width="776.3" height="479.6" fill="none" stroke="#5c5c5c" stroke-width="1.0"/>
<path d="M140.20,488.85 v-9.5 M140.20,9.25 v9.5 M170.01,488.85 v-5.7 M170.01,9.25 v5.7 M199.82,488.85 v-5.7 M199.82,9.25 v5.7 M229.63,488.85 v-5.7 M229.63,9.25 v5.7 M259.44,488.85 v-5.7 M259.44,9.25 v5.7 M289.25,488.85 v-9.5 M289.25,9.25 v9.5 M319.06,488.85 v-5.7 M319.06,9.25 v5.7 M348.87,488.85 v-5.7 M348.87,9.25 v5.7 M378.68,488.85 v-5.7 M378.68,9.25 v5.7 M408.49,488.85 v-5.7 M408.49,9.25 v5.7 M438.30,488.85 v-9.5 M438.30,9.25 v9.5 M468.11,488.85 v-5.7 M468.11,9.25 v5.7 M497.92,488.85 v-5.7 M497.92,9.25 v5.7 M527.73,488.85 v-5.7 M527.73,9.25 v5.7 M557.54,488.85 v-5.7 M557.54,9.25 v5.7 M587.35,488.85 v-9.5 M587.35,9.25 v9.5 M617.16,488.85 v-5.7 M617.16,9.25 v5.7 M646.97,488.85 v-5.7 M646.97,9.25 v5.7 M676.78,488.85 v-5.7 M676.78,9.25 v5.7 M706.59,488.85 v-5.7 M706.59,9.25 v5.7 M736.40,488.85 v-9.5 M736.40,9.25 v9.5 M766.21,488.85 v-5.7 M766.21,9.25 v5.7 M796.02,488.85 v-5.7 M796.02,9.25 v5.7 M825.83,488.85 v-5.7 M825.83,9.25 v5.7 M855.64,488.85 v-5.7 M855.64,9.25 v5.7 M885.45,488.85 v-9.5 M885.45,9.25 v9.5 M124.5,479.55 h9.5 M900.8,479.55 h-9.5 M124.5,460.35 h5.7 M900.8,460.35 h-5.7 M124.5,441.14 h5.7 M900.8,441.14 h-5.7 M124.5,421.94 h5.7 M900.8,421.94 h-5.7 M124.5,402.73 h9.5 M900.8,402.73 h-9.5 M124.5,383.52 h5.7 M900.8,383.52 h-5.7 M124.5,364.32 h5.7 M900.8,364.32 h-5.7 M124.5,345.12 h5.7 M900.8,345.12 h-5.7 M124.5,325.91 h9.5 M900.8,325.91 h-9.5 M124.5,306.71 h5.7 M900.8,306.71 h-5.7 M124.5,287.50 h5.7 M900.8,287.50 h-5.7 M124.5,268.29 h5.7 M900.8,268.29 h-5.7 M124.5,249.09 h9.5 M900.8,249.09 h-9.5 M124.5,229.88 h5.7 M900.8,229.88 h-5.7 M124.5,210.68 h5.7 M900.8,210.68 h-5.7 M124.5,191.48 h5.7 M900.8,191.48 h-5.7 M124.5,172.27 h9.5 M900.8,172.27 h-9.5 M124.5,153.06 h5.7 M900.8,153.06 h-5.7 M124.5,133.86 h5.7 M900.8,133.86 h-5.7 M124.5,114.65 h5.7 M900.8,114.65 h-5.7 M124.5,95.45 h9.5 M900.8,95.45 h-9.5 M124.5,76.25 h5.7 M900.8,76.25 h-5.7 M124.5,57.04 h5.7 M900.8,57.04 h-5.7 M124.5,37.83 h5.7 M900.8,37.83 h-5.7 M124.5,18.63 h9.5 M900.8,18.63 h-9.5" stroke="#1a1a1a" stroke-width="0.72" fill="none"/>
<g font-family="'Liberation Sans', sans-serif" fill="#000000" opacity="0.995" style="font-kerning:none">
<text font-size="34.90" transform="translate(104.32,527.00) scale(1.0490,1.0000)">0.00</text>
<text font-size="34.90" transform="translate(253.38,527.00) scale(1.0401,1.0000)">0.05</text>
<text font-size="34.90" transform="translate(402.42,527.00) scale(1.0490,1.0000)">0.10</text>
<text font-size="34.90" transform="translate(551.48,527.00) scale(1.0401,1.0000)">0.15</text>
<text font-size="34.90" transform="translate(700.52,527.00) scale(1.0490,1.0000)">0.20</text>
<text font-size="34.90" transform="translate(849.58,527.00) scale(1.0401,1.0000)">0.25</text>
<text font-size="34.90" transform="translate(97.52,491.65) scale(0.9909,1.0000)">0</text>
<text font-size="34.90" transform="translate(76.40,414.83) scale(1.0411,1.0000)">20</text>
<text font-size="34.90" transform="translate(76.61,338.01) scale(1.0355,1.0000)">40</text>
<text font-size="34.90" transform="translate(76.28,261.19) scale(1.0444,1.0000)">60</text>
<text font-size="34.90" transform="translate(76.49,184.37) scale(1.0388,1.0000)">80</text>
<text font-size="34.90" transform="translate(55.79,107.55) scale(1.0482,1.0000)">100</text>
<text font-size="34.90" transform="translate(55.79,30.73) scale(1.0482,1.0000)">120</text>
<text font-size="34.90" transform="translate(506.68,582.40) scale(1.1400,1.0000)">r</text>
<text font-size="32.00" transform="rotate(-90) translate(-281.41,31.00) scale(1.1400,1.1300)">t</text>
<text font-size="33.50" transform="rotate(-90) translate(-260.10,31.00) scale(0.8917,1.0000)">/</text>
<text font-style="italic" font-size="30.00" transform="rotate(-90) translate(-243.97,31.00) scale(1.1400,1.2000)">t</text>
<text font-style="italic" font-size="24.43" transform="rotate(-90) translate(-232.56,36.30) scale(0.8750,1.0000)">H</text>
<path d="M950.5,233.40 H998.5" stroke="#800080" stroke-width="5.8" fill="none"/>
<text font-style="italic" font-size="34.90" transform="translate(1018.85,245.90) scale(0.8864,1.0000)">μ</text>
<text font-size="34.90" transform="translate(1045.82,246.20) scale(0.9259,0.8500)">=</text>
<text font-size="34.90" transform="translate(1076.25,245.90) scale(1.0363,1.0000)">1.60</text>
<path d="M950.5,295.55 H998.5" stroke="#ff00ff" stroke-width="5.8" fill="none"/>
<text font-style="italic" font-size="34.90" transform="translate(1018.85,308.05) scale(0.8864,1.0000)">μ</text>
<text font-size="34.90" transform="translate(1045.82,308.35) scale(0.9259,0.8500)">=</text>
<text font-size="34.90" transform="translate(1076.23,308.05) scale(1.0406,1.0000)">1.36</text>
<path d="M950.5,357.70 H998.5" stroke="#ff8000" stroke-width="5.8" fill="none"/>
<text font-style="italic" font-size="34.90" transform="translate(1018.85,370.20) scale(0.8864,1.0000)">μ</text>
<text font-size="34.90" transform="translate(1045.82,370.50) scale(0.9259,0.8500)">=</text>
<text font-size="34.90" transform="translate(1076.25,370.20) scale(1.0363,1.0000)">1.00</text>
</g>
</svg>
</body></html>
